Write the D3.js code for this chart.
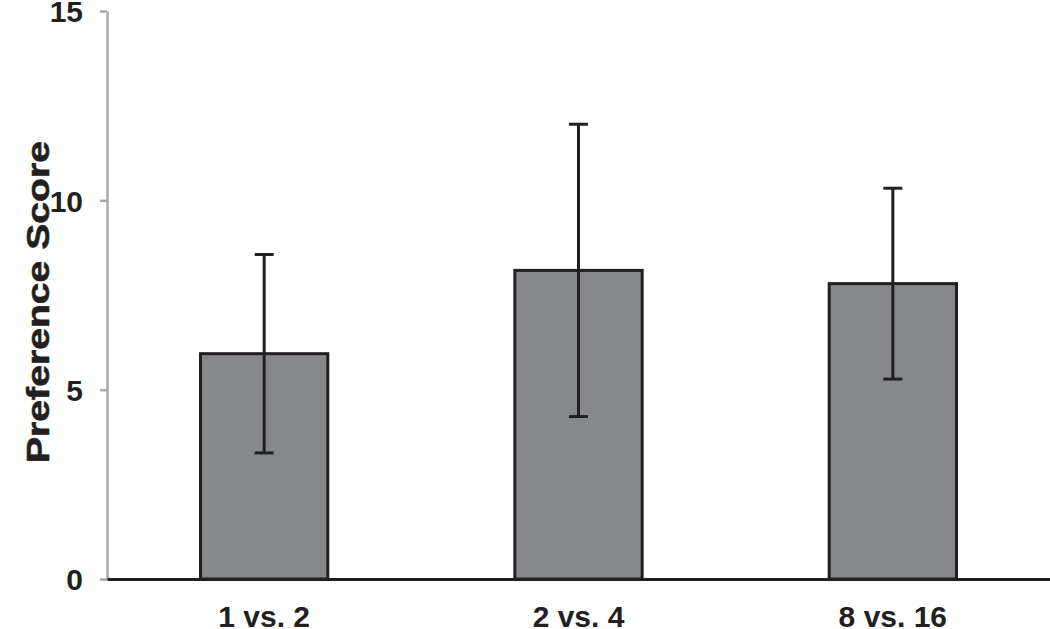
<html>
<head>
<script src="https://d3js.org/d3.v7.min.js"></script>
<style>
  body { margin: 0; background: #fff; }
  text { font-family: "Liberation Sans", Arial, Helvetica, sans-serif; font-weight: bold; fill: #231f20; }
</style>
</head>
<body>
<div id="chart"></div>
<script>
// data
const groups = ["1 vs. 2", "2 vs. 4", "8 vs. 16"];
const means = [5.95, 8.15, 7.80];
const errors = [2.62, 3.86, 2.52];
const yTicks = [0, 5, 10, 15];

const W = 1050, H = 629;
const margin = { top: 11, right: 0, bottom: 50, left: 107 };

const svg = d3.select("#chart").append("svg")
  .attr("width", W).attr("height", H);

const x = d3.scaleBand()
  .domain(groups)
  .range([margin.left, W - margin.right])
  .paddingInner(0.595)
  .paddingOuter(0.2975);

const y = d3.scaleLinear()
  .domain([0, 15])
  .range([H - margin.bottom, margin.top]);

// y axis (gray)
const yAxis = svg.append("g")
  .attr("transform", `translate(${margin.left},0)`)
  .call(d3.axisLeft(y).tickValues(yTicks).tickSize(7).tickPadding(17).tickSizeOuter(0));
yAxis.select(".domain").attr("stroke", "#a7a9ac").attr("stroke-width", 2.5);
yAxis.selectAll(".tick line").attr("stroke", "#a7a9ac").attr("stroke-width", 2.5);
yAxis.selectAll(".tick text").style("font-size", "30px").attr("dy", "0.36em").attr("fill", "#231f20");

// bars
svg.selectAll("rect.bar").data(means).join("rect")
  .attr("class", "bar")
  .attr("x", (d, i) => x(groups[i]))
  .attr("y", d => y(d))
  .attr("width", x.bandwidth())
  .attr("height", d => y(0) - y(d))
  .attr("fill", "#87888b")
  .attr("stroke", "#231f20")
  .attr("stroke-width", 3);

// error bars
const capW = 19;
const eb = svg.selectAll("g.err").data(means).join("g").attr("class", "err");
eb.append("line")
  .attr("x1", (d, i) => x(groups[i]) + x.bandwidth() / 2)
  .attr("x2", (d, i) => x(groups[i]) + x.bandwidth() / 2)
  .attr("y1", (d, i) => y(d - errors[i]))
  .attr("y2", (d, i) => y(d + errors[i]))
  .attr("stroke", "#231f20").attr("stroke-width", 3);
[1, -1].forEach(s => {
  eb.append("line")
    .attr("x1", (d, i) => x(groups[i]) + x.bandwidth() / 2 - capW / 2)
    .attr("x2", (d, i) => x(groups[i]) + x.bandwidth() / 2 + capW / 2)
    .attr("y1", (d, i) => y(d + s * errors[i]))
    .attr("y2", (d, i) => y(d + s * errors[i]))
    .attr("stroke", "#231f20").attr("stroke-width", 3);
});

// x axis (black baseline)
const xAxis = svg.append("g")
  .attr("transform", `translate(0,${y(0)})`)
  .call(d3.axisBottom(x).tickSize(0).tickPadding(27).tickSizeOuter(0));
xAxis.select(".domain").attr("stroke", "#231f20").attr("stroke-width", 3);
xAxis.selectAll(".tick text").style("font-size", "30px").attr("fill", "#231f20");

// y label
svg.append("text")
  .attr("transform", `translate(49,${(140 + 464) / 2}) rotate(-90)`)
  .attr("text-anchor", "middle")
  .attr("textLength", 322)
  .attr("lengthAdjust", "spacingAndGlyphs")
  .style("font-size", "32px")
  .style("stroke", "#231f20")
  .style("stroke-width", 0.6)
  .text("Preference Score");
</script>
</body>
</html>
